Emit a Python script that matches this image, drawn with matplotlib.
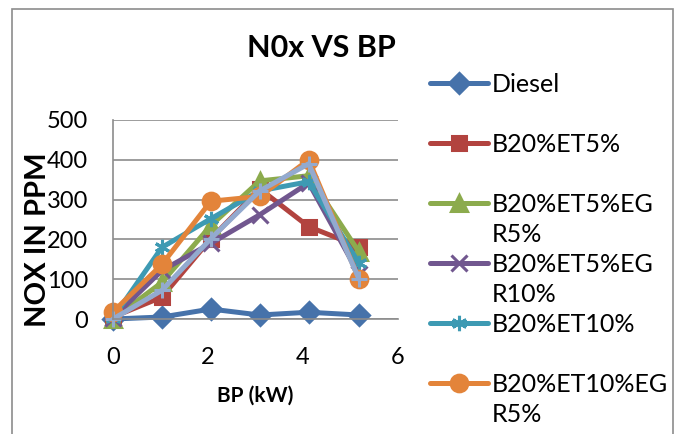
import numpy as np
import matplotlib
matplotlib.use("Agg")
import matplotlib.pyplot as plt
from matplotlib.lines import Line2D
from matplotlib.patches import Rectangle

plt.rcParams['font.family'] = ['Lato', 'DejaVu Sans']

# brake power (kW)
bp = [0, 1.03, 2.06, 3.09, 4.12, 5.18]

# NOx in ppm for each fuel blend
diesel = [0, 5, 25, 10, 17, 10]
b20_et5 = [5, 55, 202, 327, 232, 182]
b20_et5_egr5 = [0, 92, 235, 347, 360, 168]
b20_et5_egr10 = [3, 122, 190, 262, 342, 112]
b20_et10 = [3, 180, 252, 322, 345, 140]
b20_et10_egr5 = [18, 137, 296, 308, 400, 100]
b20_et10_egr10 = [0, 72, 202, 322, 390, 100]

series_names = ['Diesel', 'B20%ET5%', 'B20%ET5%EG\nR5%', 'B20%ET5%EG\nR10%',
                'B20%ET10%', 'B20%ET10%EG\nR5%', 'B20%ET10%EG\nR10%']
series_values = [diesel, b20_et5, b20_et5_egr5, b20_et5_egr10,
                 b20_et10, b20_et10_egr5, b20_et10_egr10]
colors = ['#4672AA', '#B2433F', '#8CAB4D', '#71578F', '#3E9AB3', '#E3843A', '#93AACF']
markers = ['D', 's', '^', 'x', (6, 2, 0), 'o', '+']
msizes = [10, 10, 11, 11, 11, 12, 12]

gray = '#8C8C8C'

fig = plt.figure(figsize=(6.77, 4.34), dpi=100)
W, H = 677, 434

# chart area border (cut off at the bottom like the original)
fig.add_artist(Rectangle((12 / W, -0.2), (673 - 12) / W, 1.2 - 9 / H,
                         transform=fig.transFigure, fill=False,
                         edgecolor=gray, lw=1.2, clip_on=False))

ax = fig.add_axes([113 / W, 1 - 319 / H, 285 / W, 199 / H])

handles = []
for name, vals, c, m, ms in zip(series_names, series_values, colors, markers, msizes):
    ln, = ax.plot(bp, vals, color=c, lw=3.6, marker=m, ms=ms,
                  mec=c, mfc=c, mew=2.2, clip_on=False, solid_capstyle='round',
                  solid_joinstyle='round')
    handles.append(ln)

ax.set_xlim(0, 6)
ax.set_ylim(0, 500)
ax.set_xticks([0, 2, 4, 6])
ax.set_yticks([0, 100, 200, 300, 400, 500])
ax.grid(axis='y', color=gray, lw=1.2)
ax.set_axisbelow(True)
for s in ['top', 'right']:
    ax.spines[s].set_visible(False)
for s in ['left', 'bottom']:
    ax.spines[s].set_color(gray)
    ax.spines[s].set_linewidth(1.2)
ax.tick_params(length=0, labelsize=17, colors='black')
ax.tick_params(axis='y', pad=18)
ax.tick_params(axis='x', pad=20)

fig.text(321 / W, 1 - 57 / H, 'N0x VS BP', fontsize=22, fontweight='bold',
         ha='center', va='baseline')
fig.text(38 / W, 1 - 240 / H, 'NOX IN PPM', fontsize=21, fontweight='bold',
         rotation=90, ha='center', va='center')
fig.text(255 / W, 1 - 402 / H, 'BP (kW)', fontsize=15, fontweight='bold',
         ha='center', va='baseline')

# legend rows: first line next to the marker, wrapped part on its own row
blank = Line2D([], [], alpha=0)
leg_handles = []
leg_labels = []
for h, name in zip(handles, series_names):
    parts = name.split('\n')
    leg_handles.append(h)
    leg_labels.append(parts[0])
    leg_handles.append(blank)
    leg_labels.append(parts[1] if len(parts) > 1 else ' ')

fig.legend(leg_handles, leg_labels, loc='upper left',
           bbox_to_anchor=(430 / W, 1 - 73 / H), frameon=False,
           fontsize=18, borderpad=0, borderaxespad=0, handlelength=2.3,
           handletextpad=0.15, labelspacing=0.28, markerscale=1.0)

fig.savefig('out.png', dpi=100)
